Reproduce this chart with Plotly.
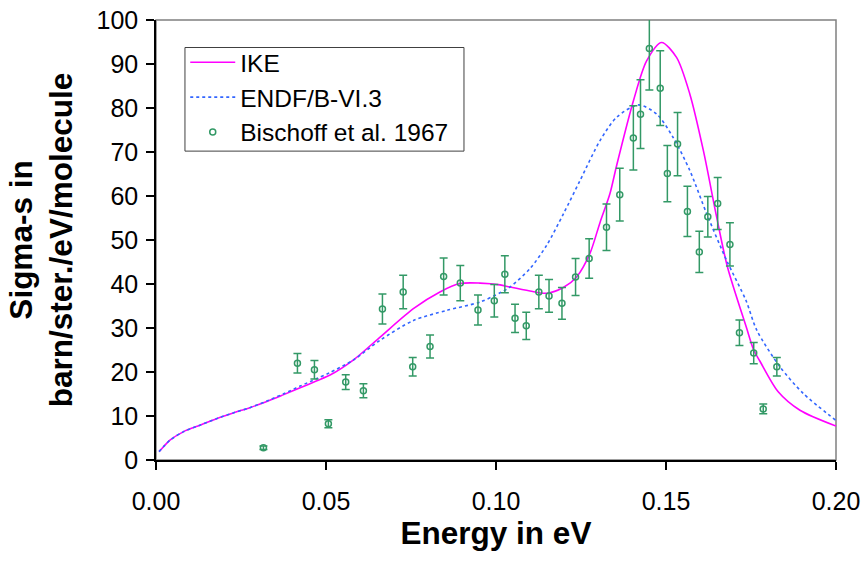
import plotly.graph_objects as go

# IKE calculation (solid magenta)
ike_energy = [0.0009, 0.0022, 0.0041, 0.008, 0.0129, 0.0178, 0.0227, 0.0276, 0.0326,
              0.0374, 0.0424, 0.0473, 0.0512, 0.058, 0.066, 0.0757,
              0.0835, 0.0894, 0.0953, 0.1012, 0.1041, 0.110, 0.1149, 0.1198, 0.1237,
              0.1276, 0.1306, 0.1335, 0.1355, 0.1404, 0.1443, 0.1487, 0.1531, 0.157,
              0.161, 0.1649, 0.1681, 0.1737, 0.1758, 0.1776, 0.1830, 0.1894, 0.200]
ike_sigma = [1.9, 3.0, 4.5, 6.4, 7.9, 9.4, 10.7, 11.9, 13.3,
             14.8, 16.4, 18.0, 19.3, 22.7, 28.0, 34.4,
             38.2, 40.1, 40.2, 39.8, 39.3, 38.4, 37.9, 39.2, 41.6,
             46.9, 54.0, 60.5, 67.0, 81.6, 90.7, 94.9, 91.5, 83.2,
             70.3, 55.2, 43.8, 30.0, 25.0, 22.5, 15.5, 11.3, 7.7]

# ENDF/B-VI.3 evaluation (blue dotted)
endf_energy = [0.0009, 0.0022, 0.0041, 0.008, 0.0129, 0.0178, 0.0227, 0.0276, 0.0326,
               0.0374, 0.0424, 0.0473, 0.0512, 0.058, 0.0659, 0.0757,
               0.0855, 0.0953, 0.1012, 0.1041, 0.110, 0.1149, 0.1198, 0.1247, 0.1306,
               0.1355, 0.1419, 0.1473, 0.1521, 0.157, 0.162, 0.1678, 0.1735, 0.1767,
               0.1835, 0.1904, 0.200]
endf_sigma = [1.9, 3.0, 4.5, 6.4, 7.9, 9.4, 10.7, 11.9, 13.4,
              15.0, 16.8, 18.5, 19.9, 22.7, 27.2, 31.7,
              34.0, 35.9, 38.0, 39.3, 43.5, 48.8, 55.9, 63.5, 72.6,
              77.9, 80.7, 78.6, 73.3, 65.8, 55.9, 45.4, 36.3, 29.5,
              21.2, 15.1, 9.0]

# Bischoff et al. 1967 measurements with uncertainties
exp_energy = [0.0316, 0.0416, 0.0466, 0.0507, 0.0558, 0.0610, 0.0666, 0.0727, 0.0755,
              0.0806, 0.0846, 0.0895, 0.0947, 0.0995, 0.1026, 0.1056, 0.1089, 0.1126,
              0.1156, 0.1194, 0.1234, 0.1274, 0.1325, 0.1364, 0.1404, 0.1425, 0.1451,
              0.1483, 0.1504, 0.1534, 0.1563, 0.1598, 0.1623, 0.1652, 0.1688, 0.1716,
              0.1758, 0.1786, 0.1826]
exp_sigma = [2.8, 22.0, 20.5, 8.25, 17.7, 15.75, 34.3, 38.2, 21.2,
             25.8, 41.7, 40.2, 34.1, 36.2, 42.2, 32.2, 30.5, 38.2,
             37.3, 35.6, 41.6, 45.8, 52.9, 60.3, 73.2, 78.6, 93.5,
             84.5, 65.1, 71.8, 56.5, 47.3, 55.3, 58.3, 49.0, 28.9,
             24.3, 11.6, 21.2]
exp_err = [0.4, 2.2, 2.1, 0.9, 1.7, 1.6, 3.4, 3.8, 2.1,
           2.6, 4.2, 4.0, 3.4, 3.7, 4.2, 3.2, 3.1, 3.8,
           3.7, 3.6, 4.2, 4.5, 5.3, 6.0, 7.3, 7.8, 9.4,
           8.5, 6.4, 7.2, 5.7, 4.7, 4.6, 5.9, 4.9, 2.9,
           2.4, 1.1, 2.1]

x_ticks = [0.0, 0.05, 0.10, 0.15, 0.20]
x_tick_labels = ["0.00", "0.05", "0.10", "0.15", "0.20"]
y_ticks = list(range(0, 101, 10))

FONT = "Arial, Liberation Sans, sans-serif"
GREEN = "#339966"
TICK_SIZE = 25
LEGEND_SIZE = 24.5
TITLE_SIZE = 31.5

fig = go.Figure()

fig.add_trace(go.Scatter(
    x=ike_energy, y=ike_sigma, name="IKE", mode="lines",
    line=dict(color="#FF00FF", width=1.6, shape="spline", smoothing=0.8),
))
fig.add_trace(go.Scatter(
    x=endf_energy, y=endf_sigma, name="ENDF/B-VI.3", mode="lines",
    line=dict(color="#3366FF", width=1.6, dash="dot", shape="spline", smoothing=0.8),
))
fig.add_trace(go.Scatter(
    x=exp_energy, y=exp_sigma, name="Bischoff et al. 1967", mode="markers",
    marker=dict(symbol="circle-open", size=6, color=GREEN, line=dict(width=1.5, color=GREEN)),
    error_y=dict(type="data", array=exp_err, visible=True, color=GREEN,
                 thickness=1.5, width=4),
))

# gray frame on top/right, black axis lines on left/bottom
fig.add_shape(type="rect", xref="paper", yref="paper", x0=0, y0=0, x1=1, y1=1,
              line=dict(color="#808080", width=1.5), layer="below")
# legend frame
fig.add_shape(type="rect", xref="paper", yref="paper",
              x0=0.0426, y0=0.702, x1=0.4529, y1=0.9375,
              line=dict(color="#404040", width=1), fillcolor="white", layer="below")

fig.update_layout(
    width=861, height=562,
    margin=dict(l=156, r=25, t=20, b=102),
    paper_bgcolor="white", plot_bgcolor="white",
    font=dict(family=FONT, size=TICK_SIZE, color="black"),
    showlegend=True,
    legend=dict(
        x=0.043, y=0.955, xanchor="left", yanchor="top",
        borderwidth=0, bgcolor="rgba(0,0,0,0)",
        font=dict(family=FONT, size=LEGEND_SIZE, color="black"),
        itemwidth=45, tracegroupgap=0,
    ),
    xaxis=dict(
        range=[0, 0.2], tickvals=x_ticks, ticktext=x_tick_labels,
        showgrid=False, zeroline=False, automargin=False,
        showline=True, linecolor="black", linewidth=1.5,
        ticks="outside", ticklen=8, tickwidth=1.5, tickcolor="black",
        ticklabelstandoff=10,
        tickfont=dict(family=FONT, size=TICK_SIZE),
        title=dict(text="<b>Energy in eV</b>", font=dict(family=FONT, size=TITLE_SIZE), standoff=0),
    ),
    yaxis=dict(
        range=[0, 100], tickvals=y_ticks,
        showgrid=False, zeroline=False, automargin=False,
        showline=True, linecolor="black", linewidth=1.5,
        ticks="outside", ticklen=8, tickwidth=1.5, tickcolor="black",
        ticklabelstandoff=3,
        tickfont=dict(family=FONT, size=TICK_SIZE),
        title=dict(text="<b>Sigma-s in<br>barn/ster./eV/molecule</b>",
                   font=dict(family=FONT, size=TITLE_SIZE), standoff=14),
    ),
)

fig.write_html("out.html")
